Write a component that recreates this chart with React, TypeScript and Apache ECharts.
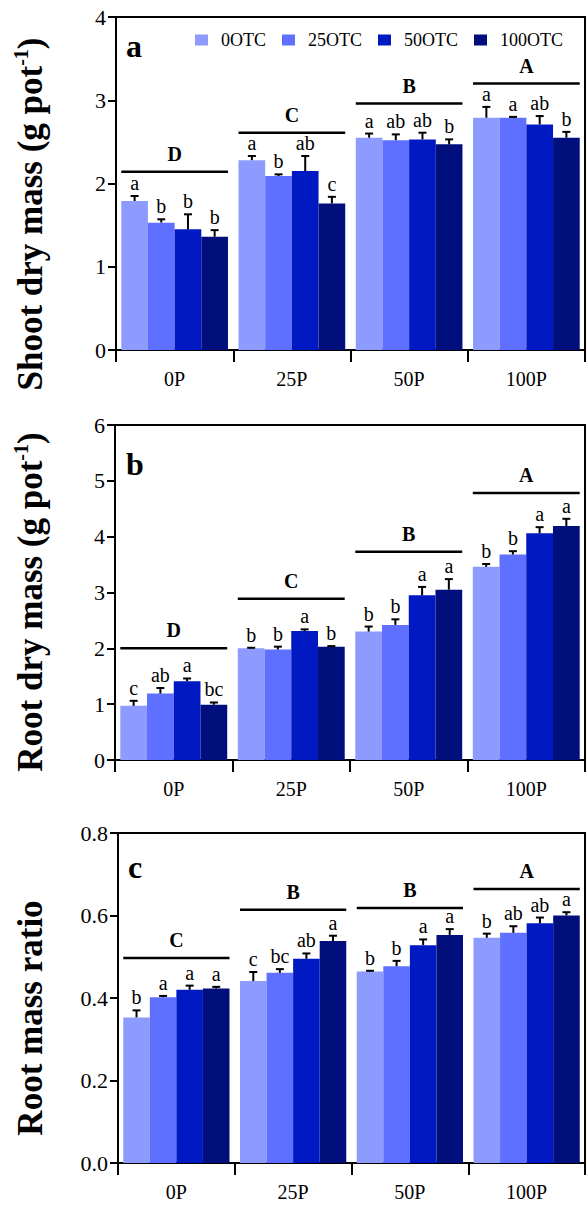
import React, { useEffect, useRef } from "react";
import * as echarts from "echarts";

const categories = ["0P", "25P", "50P", "100P"];
const seriesNames = ["0OTC", "25OTC", "50OTC", "100OTC"];
const colors = ["#8d9bff", "#5f6fff", "#0019c2", "#000f7c"];

// Panel a: shoot dry mass
const shoot0 = [1.79, 2.28, 2.55, 2.79];
const shoot25 = [1.53, 2.09, 2.52, 2.79];
const shoot50 = [1.45, 2.15, 2.53, 2.71];
const shoot100 = [1.36, 1.76, 2.47, 2.55];
const shootErr0 = [0.06, 0.05, 0.05, 0.13];
const shootErr25 = [0.04, 0.02, 0.07, 0.01];
const shootErr50 = [0.18, 0.18, 0.08, 0.1];
const shootErr100 = [0.08, 0.08, 0.06, 0.07];
const shootLet0 = ["a", "a", "a", "a"];
const shootLet25 = ["b", "b", "ab", "a"];
const shootLet50 = ["b", "ab", "ab", "ab"];
const shootLet100 = ["b", "c", "b", "b"];
const shootGroupLetters = ["D", "C", "B", "A"];
const shootGroupLines = [2.14, 2.61, 2.96, 3.2];

// Panel b: root dry mass
const root0 = [0.97, 2.0, 2.3, 3.46];
const root25 = [1.19, 1.98, 2.42, 3.68];
const root50 = [1.41, 2.31, 2.95, 4.06];
const root100 = [0.99, 2.03, 3.05, 4.19];
const rootErr0 = [0.09, 0.01, 0.09, 0.05];
const rootErr25 = [0.1, 0.05, 0.1, 0.06];
const rootErr50 = [0.05, 0.03, 0.15, 0.11];
const rootErr100 = [0.04, 0.01, 0.19, 0.13];
const rootLet0 = ["c", "b", "b", "b"];
const rootLet25 = ["ab", "b", "b", "b"];
const rootLet50 = ["a", "a", "a", "a"];
const rootLet100 = ["bc", "b", "a", "a"];
const rootGroupLetters = ["D", "C", "B", "A"];
const rootGroupLines = [2.0, 2.89, 3.73, 4.78];

// Panel c: root mass ratio
const ratio0 = [0.353, 0.441, 0.464, 0.546];
const ratio25 = [0.402, 0.461, 0.477, 0.558];
const ratio50 = [0.42, 0.495, 0.528, 0.581];
const ratio100 = [0.423, 0.538, 0.553, 0.6];
const ratioErr0 = [0.017, 0.022, 0.002, 0.01];
const ratioErr25 = [0.003, 0.009, 0.013, 0.016];
const ratioErr50 = [0.01, 0.013, 0.014, 0.014];
const ratioErr100 = [0.004, 0.013, 0.014, 0.008];
const ratioLet0 = ["b", "c", "b", "b"];
const ratioLet25 = ["a", "bc", "b", "ab"];
const ratioLet50 = ["a", "ab", "a", "ab"];
const ratioLet100 = ["a", "a", "a", "a"];
const ratioGroupLetters = ["C", "B", "B", "A"];
const ratioGroupLines = [0.497, 0.614, 0.618, 0.664];

const yMaxes = [4, 6, 0.8];
const yIntervals = [1, 1, 0.2];

const FONT = "Liberation Serif";
const CAT_GAP = 0.09;

type Panel = {
  values: number[][];
  errs: number[][];
  letters: string[][];
  groupLetters: string[];
  groupLines: number[];
};

const panels: Panel[] = [
  {
    values: [shoot0, shoot25, shoot50, shoot100],
    errs: [shootErr0, shootErr25, shootErr50, shootErr100],
    letters: [shootLet0, shootLet25, shootLet50, shootLet100],
    groupLetters: shootGroupLetters,
    groupLines: shootGroupLines,
  },
  {
    values: [root0, root25, root50, root100],
    errs: [rootErr0, rootErr25, rootErr50, rootErr100],
    letters: [rootLet0, rootLet25, rootLet50, rootLet100],
    groupLetters: rootGroupLetters,
    groupLines: rootGroupLines,
  },
  {
    values: [ratio0, ratio25, ratio50, ratio100],
    errs: [ratioErr0, ratioErr25, ratioErr50, ratioErr100],
    letters: [ratioLet0, ratioLet25, ratioLet50, ratioLet100],
    groupLetters: ratioGroupLetters,
    groupLines: ratioGroupLines,
  },
];

const grids = [
  { left: 116, top: 17, width: 469, height: 333 },
  { left: 115, top: 425, width: 470, height: 335 },
  { left: 118, top: 833, width: 467, height: 330 },
];

export default function App() {
  const ref = useRef<HTMLDivElement>(null);
  useEffect(() => {
    document.body.style.margin = "0";
    if (!ref.current) return;
    const chart = echarts.init(ref.current, null, { renderer: "svg" });

    const series: any[] = [];
    panels.forEach((p, pi) => {
      p.values.forEach((vals, si) => {
        series.push({
          type: "bar",
          name: seriesNames[si],
          xAxisIndex: pi,
          yAxisIndex: pi,
          data: vals,
          barGap: "0%",
          barCategoryGap: CAT_GAP * 100 + "%",
          itemStyle: { color: colors[si] },
        });
      });
      // error bars + letters
      const errData: number[][] = [];
      const errLetters: string[] = [];
      p.values.forEach((vals, si) => {
        vals.forEach((v, ci) => {
          errData.push([ci, si, v, v + p.errs[si][ci]]);
          errLetters.push(p.letters[si][ci]);
        });
      });
      series.push({
        type: "custom",
        xAxisIndex: pi,
        yAxisIndex: pi,
        data: errData,
        z: 5,
        renderItem: (params: any, api: any) => {
          const ci = api.value(0);
          const si = api.value(1);
          const v = api.value(2);
          const e = api.value(3);
          const base = api.coord([ci, v]);
          const top = api.coord([ci, e]);
          const band = api.size([1, 0])[0];
          const bw = (band * (1 - CAT_GAP)) / 4;
          const x = base[0] + (si - 1.5) * bw;
          return {
            type: "group",
            children: [
              {
                type: "line",
                shape: { x1: x, y1: base[1], x2: x, y2: top[1] },
                style: { stroke: "#000", lineWidth: 2 },
              },
              {
                type: "line",
                shape: { x1: x - 4, y1: top[1], x2: x + 4, y2: top[1] },
                style: { stroke: "#000", lineWidth: 2 },
              },
              {
                type: "text",
                x: x,
                y: top[1] - 3,
                style: {
                  text: errLetters[params.dataIndex],
                  fontFamily: FONT,
                  fontSize: 20,
                  fill: "#000",
                  align: "center",
                  verticalAlign: "bottom",
                },
              },
            ],
          };
        },
      });
      // group lines + letters
      series.push({
        type: "custom",
        xAxisIndex: pi,
        yAxisIndex: pi,
        data: p.groupLines.map((g, ci) => [ci, g]),
        z: 5,
        renderItem: (params: any, api: any) => {
          const ci = api.value(0);
          const g = api.value(1);
          const c = api.coord([ci, g]);
          const band = api.size([1, 0])[0];
          const half = (band * (1 - CAT_GAP)) / 2;
          return {
            type: "group",
            children: [
              {
                type: "line",
                shape: { x1: c[0] - half, y1: c[1], x2: c[0] + half, y2: c[1] },
                style: { stroke: "#000", lineWidth: 2.5 },
              },
              {
                type: "text",
                x: c[0],
                y: c[1] - 8,
                style: {
                  text: p.groupLetters[params.dataIndex],
                  fontFamily: FONT,
                  fontSize: 20,
                  fontWeight: "bold",
                  fill: "#000",
                  align: "center",
                  verticalAlign: "bottom",
                },
              },
            ],
          };
        },
      });
    });

    const xAxis = grids.map((g, i) => ({
      type: "category",
      gridIndex: i,
      data: categories,
      axisLine: { lineStyle: { color: "#000", width: 2 } },
      axisTick: { show: true, length: 12, inside: false, interval: 0, lineStyle: { color: "#000", width: 2 } },
      axisLabel: { color: "#000", fontFamily: FONT, fontSize: 20, margin: 19 },
    }));

    const yAxis = grids.map((g, i) => ({
      type: "value",
      gridIndex: i,
      min: 0,
      max: yMaxes[i],
      interval: yIntervals[i],
      splitLine: { show: false },
      axisLine: { show: true, lineStyle: { color: "#000", width: 2 } },
      axisTick: { show: true, length: 8, inside: false, lineStyle: { color: "#000", width: 2 } },
      axisLabel: {
        color: "#000",
        fontFamily: FONT,
        fontSize: 22,
        margin: 10,
        formatter: (v: number) => (i === 2 ? v.toFixed(1) : String(v)),
      },
    }));

    const titleRich = {
      n: { fontFamily: FONT, fontSize: 35, fontWeight: "bold", fill: "#000", lineHeight: 38 },
      s: { fontFamily: FONT, fontSize: 20, fontWeight: "bold", fill: "#000", lineHeight: 38, verticalAlign: "top", padding: [0, 0, 15, 0] },
    };

    const yTitle = (text: string, y: number) => ({
      type: "text",
      x: 30,
      y,
      rotation: Math.PI / 2,
      style: {
        text,
        rich: titleRich,
        align: "center",
        verticalAlign: "middle",
        fill: "#000",
      },
    });

    const panelLabel = (t: string, x: number, y: number) => ({
      type: "text",
      x,
      y,
      style: {
        text: t,
        fontFamily: FONT,
        fontSize: 32,
        fontWeight: "bold",
        fill: "#000",
        align: "left",
        verticalAlign: "bottom",
      },
    });

    chart.setOption({
      animation: false,
      legend: {
        data: seriesNames,
        left: 190,
        top: 26,
        itemWidth: 13,
        itemHeight: 11,
        itemGap: 16,
        icon: "rect",
        textStyle: { fontFamily: FONT, fontSize: 18, color: "#000", padding: [0, 0, 0, 8] },
      },
      grid: grids.map((g) => ({
        ...g,
        show: true,
        borderColor: "#000",
        borderWidth: 2,
        backgroundColor: "transparent",
      })),
      xAxis,
      yAxis,
      series,
      graphic: [
        yTitle("{n|Shoot dry mass (g pot}{s|-1}{n|)}", 214),
        yTitle("{n|Root dry mass (g pot}{s|-1}{n|)}", 602),
        yTitle("{n|Root mass ratio}", 1018),
        panelLabel("a", 126, 62),
        panelLabel("b", 126, 480),
        panelLabel("c", 128, 883),
      ],
    });
    return () => chart.dispose();
  }, []);
  return <div ref={ref} style={{ width: 588, height: 1206 }} />;
}
